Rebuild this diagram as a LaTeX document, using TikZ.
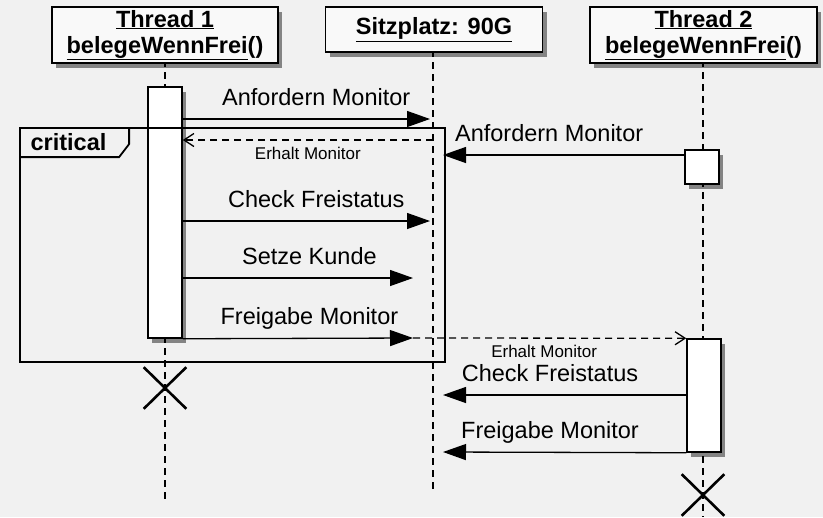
\documentclass[tikz,border=0pt]{standalone}
\usepackage{fontspec}
\setmainfont{Liberation Sans}
\usetikzlibrary{arrows.meta,shapes.misc,shadows}

\newcommand{\lblsize}{\fontsize{23.5}{26}\selectfont}
\newcommand{\smlsize}{\fontsize{17}{19}\selectfont}
\definecolor{bgcol}{RGB}{241,241,241}
\definecolor{boxcol}{RGB}{249,249,249}

\begin{document}
\begin{tikzpicture}[x=1pt,y=-1pt,>={Triangle[length=23pt,width=16pt]},line width=1.3pt]
  \tikzstyle{shade}=[drop shadow={shadow xshift=4pt,shadow yshift=-5pt,fill=black,opacity=.45}]
  \tikzstyle{head}=[draw, line width=1.8pt, fill=boxcol, align=center, font=\lblsize\bfseries, inner sep=0pt, shade]
  \tikzstyle{act}=[draw, line width=1.5pt, fill=white, minimum width=34, inner sep=0pt, shade]
  \tikzstyle{life}=[line width=1.5pt, dash pattern=on 7pt off 5pt]
  \tikzstyle{lbl}=[font=\lblsize, text height=17pt, text depth=5pt, inner sep=2pt, above=6pt]
  \tikzstyle{sml}=[font=\smlsize, text height=12.5pt, text depth=4pt, inner sep=2pt, below=4pt]
  \tikzstyle{ret}=[dash pattern=on 7pt off 5pt, -{Straight Barb[length=10pt,width=13pt]}]
  \tikzstyle{kill}=[cross out, draw, line width=2.6pt, minimum width=40, minimum height=39, inner sep=0pt]

  % background, fixes the size too
  \fill[bgcol] (0,0) rectangle (823,517);

  % lifelines
  \coordinate (e1) at (165,500);
  \coordinate (e2) at (433,493);
  \coordinate (e3) at (703,517);
  \draw[life] (165,60) -- (e1);
  \draw[life] (433,50) -- (e2);
  \draw[life] (703,60) -- (e3);

  % objects
  \node[head, minimum width=226, minimum height=56] (t1) at (165,35) {\underline{Thread 1}\\\underline{belegeWennFrei}()};
  \node[head, minimum width=217, minimum height=45] (seat) at (434,29.5) {\underline{Sitzplatz: 90G}};
  \node[head, minimum width=227, minimum height=56] (t2) at (703.5,35) {\underline{Thread 2}\\\underline{belegeWennFrei}()};

  % activations
  \node[act, minimum height=251] (a1) at (165,212.5) {};
  \node[act, minimum height=34] (a2) at (702,167) {};
  \node[act, minimum height=113] (a3) at (704,395.5) {};

  % message ends
  \coordinate (p1) at (430,119);
  \coordinate (p2) at (433,140);
  \coordinate (p3) at (443,155);
  \coordinate (p4) at (430,221);
  \coordinate (p5) at (413,278);
  \coordinate (p6) at (413,338);
  \coordinate (p8) at (443,395);
  \coordinate (p9) at (443,452);

  \draw[->] (a1.east |- p1) -- (p1) node[lbl,pos=.54] {Anfordern Monitor};
  \draw[ret] (p2) -- (a1.east |- p2) node[sml,midway] {Erhalt Monitor};
  \draw[->] (a2.west |- p3) -- (p3) node[lbl,pos=.56] {Anfordern Monitor};
  \draw[->] (a1.east |- p4) -- (p4) node[lbl,pos=.54] {Check Freistatus};
  \draw[->] (a1.east |- p5) -- (p5) node[lbl,pos=.55] {Setze Kunde};
  \draw[->] (a1.south east) -- (p6) node[lbl,pos=.55] {Freigabe Monitor};
  \draw[ret] (p6) -- (a3.north west) node[sml,pos=.48] {Erhalt Monitor};
  \draw[->] (a3.west |- p8) -- (p8) node[lbl,pos=.56] {Check Freistatus};
  \draw[->] (a3.south west) -- (p9) node[lbl,pos=.56] {Freigabe Monitor};

  % critical region
  \node[draw, line width=1.8pt, minimum width=425, minimum height=234, inner sep=0pt] (crit) at (232.5,245) {};
  \draw[line width=1.8pt] (crit.north west) ++(0,30) -- ++(100,0) -- ++(10,-13) -- ++(0,-17);
  \node[anchor=base west, font=\lblsize\bfseries, inner sep=0pt] (critlbl) at (30,150) {critical};

  % destruction
  \node[kill] (x1) at (165,388) {};
  \node[kill] (x2) at (703,495) {};
\end{tikzpicture}
\end{document}
